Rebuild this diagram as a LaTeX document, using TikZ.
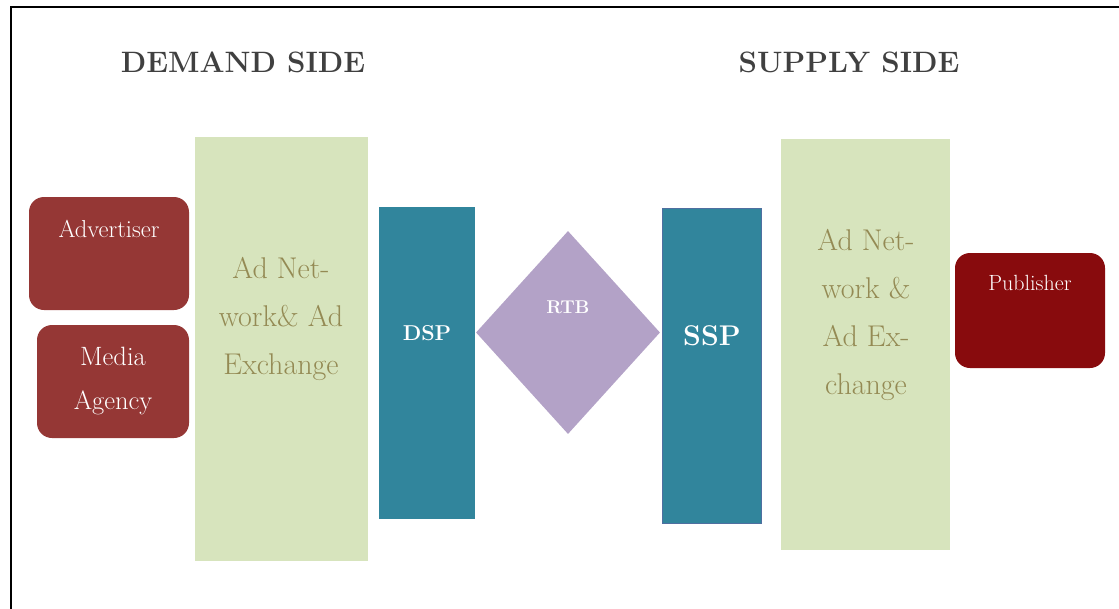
\documentclass[tikz,border=0pt]{standalone}
\usetikzlibrary{shapes.geometric}
\definecolor{boxred}{RGB}{149,55,53}
\definecolor{pubred}{RGB}{136,11,13}
\definecolor{teal}{RGB}{49,133,156}
\definecolor{sspedge}{RGB}{79,111,160}
\definecolor{lilac}{RGB}{179,162,199}
\definecolor{palegreen}{RGB}{215,228,189}
\definecolor{olive}{RGB}{148,138,84}
\definecolor{titlegray}{RGB}{64,64,64}
\tikzset{
  redbox/.style={rectangle, rounded corners=15pt, fill=boxred, draw=none, inner sep=0pt},
  greenbox/.style={rectangle, fill=palegreen, draw=none, inner sep=0pt},
  tealbox/.style={rectangle, fill=teal, draw=none, inner sep=0pt},
  title/.style={text=titlegray, font=\bfseries\fontsize{29.5}{34}\selectfont, inner sep=0pt},
  whitetxt/.style={text=white, align=center, inner sep=0pt},
  olivetxt/.style={text=olive, align=center, inner sep=0pt},
}
\begin{document}
\begin{tikzpicture}[x=1pt,y=-1pt]
\useasboundingbox (0,0) rectangle (1119,608);
% frame
\draw[line width=2.5pt] (11,620) -- (11,7) -- (1130,7);
% titles
\node[title] (demand) at (243,62) {DEMAND SIDE};
\node[title] (supply) at (849,62) {SUPPLY SIDE};
% demand side shapes
\node[redbox, minimum width=160pt, minimum height=113pt] (adv) at (109,253.5) {};
\node[redbox, minimum width=152pt, minimum height=113pt] (media) at (113,381.5) {};
\node[greenbox, minimum width=173pt, minimum height=424pt] (lgreen) at (281.5,349) {};
\node[tealbox, minimum width=96pt, minimum height=312pt] (dsp) at (427,363) {};
% RTB
\node[diamond, fill=lilac, draw=none, inner sep=0pt, minimum width=184pt, minimum height=203pt] (rtb) at (568,332.5) {};
% supply side shapes
\node[tealbox, draw=sspedge, line width=1.5pt, minimum width=99pt, minimum height=315pt] (ssp) at (712,366) {};
\node[greenbox, minimum width=169pt, minimum height=411pt] (rgreen) at (865.5,344.5) {};
\node[redbox, fill=pubred, minimum width=150pt, minimum height=115pt] (pub) at (1030,310.5) {};
% texts
\node[whitetxt, font=\fontsize{24.5}{28}\selectfont] (advtxt) at (109,229) {Advertiser};
\node[whitetxt, font=\fontsize{26.5}{44}\selectfont] (mediatxt) at (113,381) {Media\\Agency};
\node[olivetxt, font=\fontsize{30}{48}\selectfont] (lgtxt) at (281,319) {Ad Net-\\work\& Ad\\Exchange};
\node[whitetxt, font=\bfseries\fontsize{21.5}{25}\selectfont] (dsptxt) at (427,333) {DSP};
\node[whitetxt, font=\bfseries\fontsize{18.5}{22}\selectfont] (rtbtxt) at (568,307) {RTB};
\node[whitetxt, font=\bfseries\fontsize{28.5}{32}\selectfont] (ssptxt) at (712,336) {SSP};
\node[olivetxt, font=\fontsize{30}{48}\selectfont] (rgtxt) at (866,315) {Ad Net-\\work \&\\Ad Ex-\\change};
\node[whitetxt, font=\fontsize{22}{26}\selectfont] (pubtxt) at (1030,283) {Publisher};
\end{tikzpicture}
\end{document}
